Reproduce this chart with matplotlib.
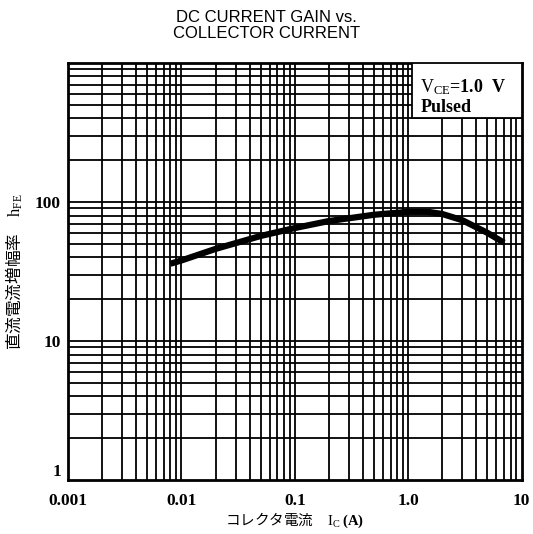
import numpy as np
import matplotlib
matplotlib.use("Agg")
import matplotlib.pyplot as plt
from matplotlib.ticker import FixedLocator

ic = [0.008, 0.01, 0.02, 0.05, 0.1, 0.2, 0.5, 1.0, 1.5, 2.0, 3.0, 5.0, 7.0]
hfe = [36, 38, 46, 57, 65, 73, 81, 85, 85, 82, 74, 60, 51]

xticks = [0.001, 0.01, 0.1, 1.0, 10]
xlabels = ["0.001", "0.01", "0.1", "1.0", "10"]
yticks = [1, 10, 100]
ylabels = ["1", "10", "100"]

plt.rcParams["mathtext.fontset"] = "custom"
plt.rcParams["mathtext.rm"] = "Liberation Serif"
plt.rcParams["mathtext.it"] = "Liberation Serif:italic"
plt.rcParams["mathtext.bf"] = "Liberation Serif:bold"

serif = ["Liberation Serif", "DejaVu Serif"]
cjk = ["Noto Sans CJK JP", "Liberation Serif", "DejaVu Sans"]

fig = plt.figure(figsize=(5.33, 5.34), dpi=100)
ax = fig.add_axes([0.1276, 0.101, 0.851, 0.781])
ax.set_xscale("log")
ax.set_yscale("log")
ax.set_xlim(0.001, 10)
ax.set_ylim(1, 1000)

# dense grid, majors and minors alike
minor_x = [m * 10.0 ** e for e in range(-3, 1) for m in range(2, 10)]
minor_y = [m * 10.0 ** e for e in range(0, 3) for m in range(2, 10)]
for v in minor_x + [0.01, 0.1, 1.0]:
    ax.axvline(v, color="black", lw=1.3, zorder=1)
for v in minor_y + [10, 100]:
    ax.axhline(v, color="black", lw=1.3, zorder=1)

ax.plot(ic, hfe, color="black", lw=4.5, solid_capstyle="butt", zorder=3)

ax.xaxis.set_major_locator(FixedLocator(xticks))
ax.yaxis.set_major_locator(FixedLocator(yticks))
ax.xaxis.set_minor_locator(FixedLocator([]))
ax.yaxis.set_minor_locator(FixedLocator([]))
ax.set_xticklabels(xlabels, fontfamily=serif, fontweight="bold", fontsize=12.5)
ax.set_yticklabels(ylabels, fontfamily=serif, fontweight="bold", fontsize=12.5)
ax.tick_params(axis="x", length=0, pad=9)
ax.tick_params(axis="y", length=0, pad=5)
ax.get_yticklabels()[0].set_verticalalignment("bottom")
for s in ax.spines.values():
    s.set_linewidth(2)

ax.set_xlabel("コレクタ電流　$\\mathrm{I_C}$ $\\mathbf{(A)}$", fontsize=10.5, family=cjk,
              va="center")
ax.xaxis.set_label_coords(0.5, -0.097)
ax.set_ylabel("直流電流増幅率　$\\mathrm{h_{FE}}$", fontsize=12, family=cjk)
ax.yaxis.set_label_coords(-0.095, 0.5)

fig.text(0.5, 0.952, "DC CURRENT GAIN vs.\nCOLLECTOR CURRENT", ha="center", va="center",
         fontsize=12, family=["Liberation Sans", "DejaVu Sans"], linespacing=1.05)

ax.text(0.777, 0.965, "$\\mathrm{V_{CE}}$=1.0  V\nPulsed", transform=ax.transAxes,
        ha="left", va="top", fontsize=13, fontfamily=serif, fontweight="bold",
        zorder=5, linespacing=1.1)
ax.add_patch(plt.Rectangle((0.758, 0.867), 0.242, 0.133, transform=ax.transAxes,
                           fc="white", ec="black", lw=1.3, zorder=4))

fig.savefig("out.png", dpi=100)
